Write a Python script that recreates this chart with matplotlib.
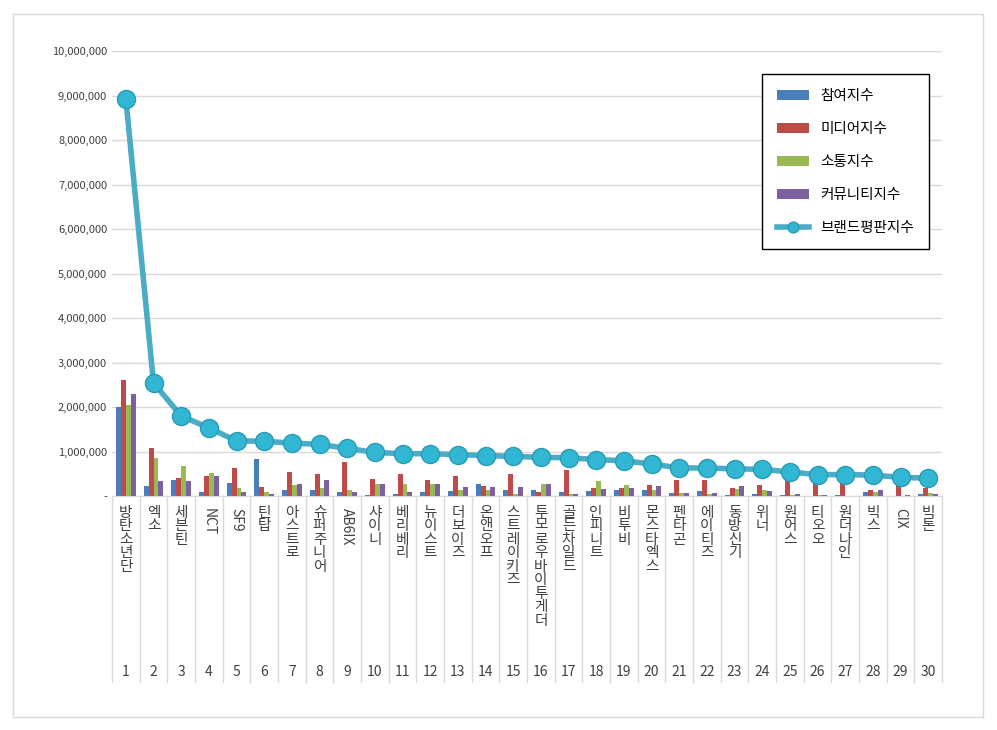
import numpy as np
import matplotlib.pyplot as plt
from matplotlib.patches import Rectangle
from matplotlib.ticker import FuncFormatter

plt.rcParams["font.family"] = ["Noto Sans CJK JP"]

names = ["방탄소년단", "엑소", "세븐틴", "NCT", "SF9", "틴탑", "아스트로", "슈퍼주니어",
         "AB6IX", "샤이니", "베리베리", "뉴이스트", "더보이즈", "온앤오프", "스트레이키즈",
         "투모로우바이투게더", "골든차일드", "인피니트", "비투비", "몬스타엑스", "펜타곤",
         "에이티즈", "동방신기", "위너", "원어스", "티오오", "원더나인", "빅스", "CIX", "빅톤"]
participation = [2000, 220, 370, 80, 300, 830, 130, 130, 80, 30, 50, 100, 120, 280, 130,
                 130, 100, 120, 130, 140, 60, 120, 20, 40, 30, 10, 20, 100, 10, 40]
media = [2600, 1070, 400, 450, 630, 200, 530, 490, 770, 390, 490, 360, 450, 220, 490,
         100, 590, 180, 190, 240, 360, 360, 180, 240, 450, 400, 450, 130, 360, 170]
communication = [2050, 860, 680, 520, 170, 100, 250, 170, 130, 260, 280, 280, 130, 140, 40,
                 260, 40, 330, 240, 130, 60, 40, 160, 140, 30, 20, 10, 100, 10, 60]
community = [2300, 330, 330, 450, 100, 50, 260, 360, 100, 260, 100, 280, 200, 200, 200,
             260, 40, 150, 190, 220, 60, 60, 220, 120, 50, 20, 10, 130, 30, 40]
brand = [8930, 2540, 1800, 1530, 1240, 1230, 1190, 1160, 1070, 980, 950, 950, 930, 910, 890,
         870, 860, 820, 790, 720, 630, 630, 610, 600, 540, 480, 480, 470, 420, 400]

series = [("참여지수", participation, "#4a7ebb"), ("미디어지수", media, "#be4b48"),
          ("소통지수", communication, "#98b954"), ("커뮤니티지수", community, "#7d60a0")]

fig = plt.figure(figsize=(9.97, 7.30), dpi=100)
fig.patches.append(Rectangle((13 / 997, 13 / 730), 970 / 997, 703 / 730, transform=fig.transFigure,
                             fill=False, edgecolor="#d9d9d9", lw=1))
ax = fig.add_axes([112 / 997, 234 / 730, 830 / 997, 445 / 730])

x = np.arange(len(names))
w = 0.18
handles = []
for i, (lab, vals, col) in enumerate(series):
    b = ax.bar(x + (i - 1.5) * w, np.array(vals) * 1000, w, color=col, label=lab, zorder=2)
    handles.append(b)
ln, = ax.plot(x, np.array(brand) * 1000, color="#4bacc6", lw=4, marker="o", markersize=13,
              markerfacecolor="#31b6d4", markeredgecolor="#2a9bb5", label="브랜드평판지수", zorder=3)

ax.set_xlim(-0.5, len(names) - 0.5)
ax.set_ylim(0, 10_000_000)
ax.set_yticks(np.arange(0, 10_000_001, 1_000_000))
ax.yaxis.set_major_formatter(FuncFormatter(lambda v, p: "-" if v == 0 else f"{int(v):,}"))
ax.tick_params(axis="y", length=0, labelsize=8, colors="#404040")
ax.grid(axis="y", color="#d9d9d9", lw=1, zorder=0)
ax.set_xticks([])
for s in ["top", "right", "left"]:
    ax.spines[s].set_visible(False)
ax.spines["bottom"].set_color("#d9d9d9")

# category labels below the axes
for i, n in enumerate(names):
    xf = ax.transData.transform((i, 0))[0] / fig.dpi / 9.97
    if n.isascii():
        fig.text(xf, 1 - 508 / 730, n, rotation=270, ha="center", va="top", fontsize=10, color="#404040")
    else:
        fig.text(xf, 1 - 506 / 730, "\n".join(n), ha="center", va="top", fontsize=10.5,
                 color="#404040", linespacing=0.95)
    fig.text(xf, 1 - 672 / 730, str(i + 1), ha="center", va="center", fontsize=10, color="#404040")
for i in range(len(names) + 1):
    xf = ax.transData.transform((i - 0.5, 0))[0] / fig.dpi / 9.97
    fig.add_artist(plt.Line2D([xf, xf], [1 - 496 / 730, 1 - 682 / 730], color="#d9d9d9", lw=1))

leg = ax.legend(handles + [ln], [h.get_label() for h in handles] + ["브랜드평판지수"],
                loc="upper left", bbox_to_anchor=((755 - 112) / 830, (496 - 67) / 445),
                fontsize=10.5, labelspacing=1.3, borderpad=1.0, fancybox=False,
                edgecolor="black", framealpha=1, handlelength=2.2, markerscale=0.6)
leg.get_frame().set_linewidth(1)

fig.savefig("out.png", dpi=100)
